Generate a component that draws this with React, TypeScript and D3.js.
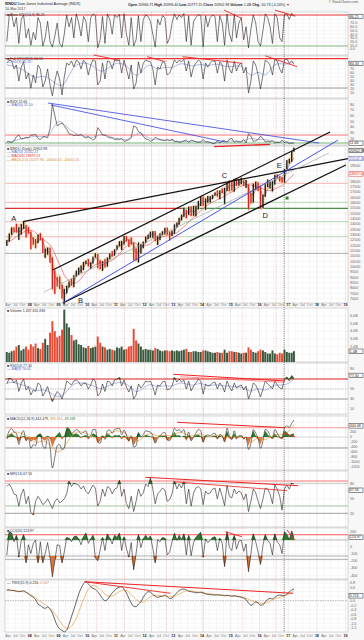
import React from 'react';
import * as d3 from 'd3';

const width = 364;
const height = 640;
const plotLeft = 5;
const plotRight = 348;
const font = 'Liberation Sans, Arial, sans-serif';

// monthly values, Mar 2007 .. Mar 2017 (121 points)
const priceClose = [
  12354, 13062, 13628, 13409, 13212, 13358, 13896, 13930, 13372, 13265,
  12650, 12266, 12263, 12820, 12638, 11350, 11378, 11544, 10851, 9325, 8829, 8776,
  8001, 7063, 7609, 8168, 8500, 8447, 9172, 9496, 9712, 9713, 10345, 10428,
  10067, 10325, 10857, 11009, 10137, 9774, 10466, 10015, 10788, 11118, 11006, 11578,
  11892, 12226, 12320, 12811, 12570, 12414, 12143, 11614, 10913, 11955, 12046, 12218,
  12633, 12952, 13212, 13214, 12393, 12880, 13009, 13091, 13437, 13096, 13026, 13104,
  13861, 14054, 14579, 14840, 15116, 14910, 15500, 14810, 15130, 15546, 16086, 16577,
  15699, 16322, 16458, 16581, 16717, 16827, 16563, 17098, 17043, 17391, 17828, 17823,
  17165, 18133, 17776, 17841, 18011, 17620, 17690, 16528, 16285, 17664, 17720, 17425,
  16466, 16517, 17685, 17774, 17787, 17930, 18432, 18401, 18308, 18142, 19124, 19763,
  19864, 20812, 20903,
];
const priceHigh = [
  12500, 13120, 13690, 13690, 14020, 13700, 14000, 14200, 13900, 13730,
  13300, 12750, 12600, 13010, 13140, 12700, 11700, 11800, 11790, 10880, 9650, 9030,
  9090, 8300, 7930, 8210, 8610, 8880, 9200, 9630, 9920, 10120, 10450, 10580,
  10730, 10420, 10950, 11260, 11200, 10600, 10520, 10720, 10860, 11250, 11450, 11630,
  12020, 12390, 12420, 12880, 12880, 12570, 12750, 12260, 11720, 12280, 12130, 12360,
  12840, 13020, 13290, 13330, 13340, 12900, 13130, 13330, 13650, 13660, 13290, 13380,
  13970, 14150, 14590, 14890, 15540, 15340, 15630, 15660, 15710, 15720, 16170, 16590,
  16590, 16400, 16630, 16610, 16740, 16970, 17150, 17160, 17350, 17400, 17900, 18100,
  18000, 18240, 18290, 18180, 18350, 18100, 18140, 17700, 16930, 17800, 17980, 17920,
  17590, 16750, 17790, 18170, 17970, 18020, 18620, 18670, 18500, 18400, 19160, 19990,
  20130, 20850, 21170,
];
const priceLow = [
  11950, 12350, 13000, 13250, 13200, 12520, 13000, 13550, 12740, 13100,
  11630, 12070, 11730, 12210, 12480, 11290, 10830, 11130, 10360, 7880, 7450, 8150,
  7910, 7000, 6470, 7490, 8050, 8220, 8080, 9080, 9250, 9430, 9680, 10260,
  10030, 9830, 10300, 10860, 9870, 9770, 9620, 9930, 10010, 10720, 10950, 11040,
  11600, 11920, 11560, 12070, 12350, 11860, 12060, 10600, 10600, 10400, 11230, 11730,
  12220, 12600, 12720, 12710, 12400, 12040, 12490, 12960, 13030, 13000, 12470, 12880,
  13100, 13690, 13940, 14340, 14680, 14550, 14860, 14760, 14780, 14720, 15370, 15700,
  15700, 15340, 16000, 16020, 16330, 16680, 16570, 16330, 16900, 15860, 17100, 17070,
  17140, 17040, 17580, 17600, 17730, 17590, 17390, 15370, 15940, 16010, 17210, 17100,
  15450, 15500, 16540, 17480, 17330, 17060, 17700, 18280, 17990, 17880, 17880, 19150,
  19680, 19830, 20780,
];
const ma50 = [
  12400, 12550, 12900, 13250, 13400, 13300, 13350, 13700, 13600, 13350,
  13000, 12500, 12250, 12350, 12600, 12350, 11700, 11450, 11300, 10300, 9200, 8750,
  8600, 8300, 7400, 7600, 8150, 8450, 8550, 9150, 9450, 9700, 9900, 10250,
  10350, 10300, 10400, 10800, 10750, 10300, 10150, 10300, 10400, 10850, 11100, 11250,
  11600, 11950, 12050, 12300, 12550, 12450, 12350, 12000, 11300, 11300, 11700, 12000,
  12300, 12700, 12950, 13100, 12950, 12650, 12750, 13000, 13200, 13350, 13150, 13050,
  13300, 13750, 14150, 14550, 14900, 15050, 15150, 15250, 15150, 15250, 15600, 16000,
  16150, 16050, 16200, 16350, 16500, 16700, 16800, 16850, 17000, 16800, 17150, 17600,
  17600, 17700, 17800, 17900, 17950, 17900, 17800, 17400, 16800, 16750, 17300, 17500,
  17200, 16700, 16750, 17300, 17700, 17800, 18000, 18300, 18350, 18200, 18350, 19050,
  19600, 19900, 20200,
];
const ma200 = [
  12300, 12400, 12500, 12650, 12800, 12950, 13100, 13250, 13350, 13400,
  13400, 13350, 13200, 13000, 12800, 12600, 12400, 12250, 12050, 11700, 11200, 10700,
  10200, 9700, 9200, 8900, 8700, 8550, 8450, 8500, 8650, 8900, 9200, 9450,
  9700, 9900, 10050, 10200, 10300, 10350, 10400, 10400, 10450, 10500, 10600, 10750,
  10950, 11200, 11450, 11700, 11950, 12100, 12250, 12250, 12150, 12000, 11950, 11950,
  12000, 12050, 12150, 12350, 12500, 12650, 12750, 12800, 12850, 12950, 13000, 13050,
  13100, 13200, 13350, 13550, 13750, 13950, 14200, 14450, 14650, 14850, 15050, 15250,
  15450, 15650, 15800, 15950, 16050, 16150, 16300, 16400, 16500, 16600, 16750, 16900,
  17000, 17150, 17300, 17450, 17550, 17650, 17700, 17700, 17650, 17600, 17550, 17500,
  17400, 17300, 17200, 17150, 17150, 17200, 17300, 17400, 17500, 17600, 17800, 18000,
  18250, 18500, 18700,
];
const bbUpper = [
  12700, 13300, 13800, 13800, 14150, 14000, 14100, 14300, 14100, 13900,
  13500, 13000, 12800, 13100, 13250, 12900, 12000, 11900, 11900, 11300, 10200, 9300,
  9300, 8700, 8200, 8400, 8750, 8950, 9300, 9750, 10000, 10250, 10550, 10650,
  10850, 10600, 11000, 11350, 11350, 10800, 10600, 10800, 10950, 11350, 11550, 11700,
  12100, 12450, 12500, 12950, 12950, 12700, 12800, 12600, 11900, 12300, 12300, 12450,
  12900, 13100, 13350, 13400, 13400, 13000, 13200, 13400, 13700, 13750, 13400, 13450,
  14050, 14250, 14650, 14950, 15600, 15450, 15700, 15700, 15750, 15800, 16250, 16650,
  16700, 16500, 16700, 16700, 16800, 17050, 17250, 17200, 17400, 17500, 17950, 18150,
  18100, 18300, 18350, 18250, 18400, 18250, 18200, 17900, 17100, 17900, 18050, 18000,
  17700, 16900, 17900, 18250, 18050, 18100, 18700, 18750, 18600, 18500, 19300, 20050,
  20200, 20950, 21250,
];
const bbLower = [
  11800, 12200, 12900, 13150, 13100, 12400, 12900, 13400, 12600, 13000,
  11500, 11950, 11600, 12100, 12400, 11200, 10700, 11000, 10200, 7700, 7300, 8000,
  7800, 6900, 6350, 7300, 7950, 8100, 8000, 8950, 9150, 9300, 9550, 10150,
  9900, 9700, 10200, 10750, 9700, 9600, 9500, 9800, 9900, 10600, 10850, 10950,
  11500, 11800, 11450, 11950, 12250, 11750, 11900, 10450, 10500, 10300, 11100, 11650,
  12100, 12500, 12600, 12600, 12300, 11950, 12400, 12850, 12950, 12900, 12350, 12750,
  13000, 13600, 13850, 14250, 14550, 14400, 14750, 14650, 14700, 14650, 15250, 15550,
  15600, 15200, 15900, 15900, 16250, 16550, 16450, 16200, 16800, 15700, 17000, 16950,
  17000, 16900, 17450, 17500, 17650, 17500, 17300, 15200, 15800, 15900, 17100, 17000,
  15300, 15400, 16400, 17350, 17200, 16900, 17550, 18150, 17850, 17750, 17700, 19000,
  19550, 19700, 20600,
];
// volume, billions of shares
const volume = [
  1.3, 1.2, 1.4, 1.5, 2.0, 2.2, 1.5, 1.7, 2.0, 1.6,
  2.3, 2.0, 2.4, 1.8, 1.7, 2.5, 3.0, 2.2, 3.8, 5.3, 4.0, 3.2,
  3.4, 4.2, 6.8, 5.0, 4.5, 3.5, 2.8, 2.9, 2.3, 2.2, 1.9, 1.8,
  2.1, 1.8, 1.9, 2.0, 3.3, 2.5, 2.0, 1.9, 1.6, 1.7, 1.6, 1.5,
  1.9, 1.8, 2.0, 1.6, 1.7, 2.0, 2.1, 4.3, 2.8, 2.4, 2.0, 1.6,
  1.7, 1.6, 1.6, 1.5, 1.8, 1.7, 1.5, 1.4, 1.5, 1.5, 1.4, 1.5,
  1.4, 1.5, 1.4, 1.5, 1.6, 1.7, 1.3, 1.3, 1.4, 1.4, 1.3, 1.3,
  1.5, 1.5, 1.4, 1.3, 1.2, 1.2, 1.3, 1.2, 1.2, 1.6, 1.2, 1.4,
  1.4, 1.3, 1.3, 1.2, 1.1, 1.2, 1.2, 1.9, 1.6, 1.3, 1.2, 1.4,
  1.6, 1.5, 1.3, 1.1, 1.1, 1.5, 1.1, 1.0, 1.2, 1.1, 1.6, 1.3,
  1.2, 1.2, 1.4,
];
const stoFast = [
  20, 90, 95, 60, 85, 15, 80, 92, 30, 55,
  10, 45, 25, 85, 70, 8, 30, 75, 20, 5, 35, 70,
  15, 5, 40, 92, 60, 85, 30, 95, 70, 35, 88, 75,
  20, 85, 95, 90, 3, 25, 88, 15, 95, 80, 40, 92,
  85, 94, 30, 95, 40, 10, 85, 8, 25, 90, 20, 80,
  92, 88, 75, 40, 5, 80, 65, 90, 85, 15, 30, 70,
  95, 80, 92, 85, 96, 20, 90, 10, 75, 85, 93, 90,
  5, 90, 60, 85, 92, 88, 20, 90, 70, 10, 95, 40,
  20, 95, 30, 70, 85, 25, 60, 3, 55, 92, 70, 20,
  8, 50, 95, 85, 60, 15, 95, 85, 30, 20, 93, 95,
  80, 97, 88,
];
const stoSlow = [
  85, 92, 90, 70, 80, 40, 75, 88, 45, 60,
  22, 55, 35, 80, 70, 25, 40, 70, 30, 3, 40, 65,
  45, 5, 50, 85, 80, 90, 75, 92, 88, 70, 92, 85,
  55, 80, 93, 90, 30, 40, 85, 45, 90, 88, 70, 92,
  90, 93, 60, 92, 70, 45, 80, 20, 35, 88, 60, 85,
  92, 90, 88, 70, 30, 75, 70, 88, 85, 55, 60, 75,
  93, 85, 92, 88, 94, 65, 90, 50, 75, 85, 92, 88,
  45, 85, 75, 85, 90, 90, 60, 88, 80, 40, 93, 70,
  60, 90, 65, 80, 85, 60, 75, 10, 40, 90, 80, 55,
  20, 55, 92, 88, 80, 55, 94, 90, 70, 60, 93, 95,
  85, 90, 82,
];
const vix = [
  14, 14, 13, 16, 23, 26, 19, 20, 22, 21,
  26, 26, 27, 20, 18, 23, 23, 21, 38, 80, 60, 42,
  45, 47, 42, 36, 28, 27, 25, 26, 25, 27, 23, 21,
  23, 20, 17, 20, 39, 33, 26, 26, 23, 21, 21, 18,
  19, 18, 20, 15, 16, 18, 22, 42, 40, 32, 30, 24,
  19, 18, 15, 17, 22, 20, 18, 17, 16, 18, 16, 19,
  14, 15, 13, 14, 16, 17, 13, 17, 16, 14, 13, 14,
  18, 14, 14, 13, 11, 11, 16, 12, 16, 16, 13, 19,
  20, 13, 15, 14, 14, 18, 12, 28, 24, 15, 16, 18,
  24, 20, 14, 15, 14, 16, 12, 13, 13, 17, 13, 14,
  11, 12, 12,
];
const rsi = [
  60, 72, 70, 62, 68, 45, 62, 70, 48, 55,
  38, 48, 45, 62, 58, 36, 44, 55, 38, 25, 36, 45,
  40, 30, 45, 66, 62, 58, 66, 68, 64, 56, 62, 62,
  50, 58, 70, 66, 36, 42, 60, 45, 66, 64, 56, 68,
  70, 73, 56, 68, 54, 44, 56, 30, 38, 60, 52, 58,
  66, 64, 66, 54, 38, 58, 56, 64, 66, 48, 50, 56,
  73, 64, 70, 64, 68, 50, 66, 46, 56, 62, 70, 66,
  40, 60, 56, 58, 62, 64, 50, 62, 56, 44, 66, 54,
  46, 62, 52, 56, 58, 48, 56, 30, 44, 62, 58, 48,
  34, 50, 66, 60, 56, 50, 66, 58, 52, 50, 70, 74,
  66, 77, 72,
];
const macd = [
  -50, 250, 330, 200, 150, -300, 100, 250, -150, -50,
  -450, -300, -350, 50, 100, -350, -450, -50, -400, -1240, -800, -350,
  -300, -500, -450, 250, 300, 150, 200, 300, 250, 120, 200, 250,
  0, 50, 300, 300, -200, -250, 50, -100, 250, 280, 150, 300,
  330, 350, 100, 280, 80, -150, 50, -400, -350, 150, 0, 100,
  250, 220, 200, 50, -250, -50, 60, 150, 180, -100, -150, 50,
  350, 250, 300, 200, 300, -50, 200, -150, 0, 150, 300, 250,
  -200, 50, 80, 60, 120, 150, -50, 100, 50, -200, 350, 50,
  -100, 250, -30, 50, 70, -80, 0, -500, -250, 300, 150, -50,
  -450, -150, 300, 250, 50, -50, 300, 150, 0, -50, 350, 450,
  380, 550, 680,
];
const macdHist = [
  -100, 100, 150, 50, -50, -200, -50, 50, -150, -50,
  -200, -100, -150, 100, 150, -100, -150, 50, -100, -400, -150, 100,
  200, -100, 50, 400, 350, 150, 100, 150, 80, -50, 50, 80,
  -100, 0, 150, 100, -250, -150, 50, -50, 150, 80, -50, 80,
  60, 80, -100, 60, -80, -200, 0, -350, -150, 200, 0, 30,
  100, 50, 30, -60, -250, 0, 50, 60, 50, -150, -100, 60,
  200, 50, 80, 0, 60, -150, 80, -150, 0, 80, 100, 30,
  -250, 60, 30, 0, 50, 50, -100, 60, 0, -200, 250, -50,
  -100, 150, -100, 30, 30, -80, 0, -350, -50, 250, 50, -100,
  -300, 0, 250, 100, -30, -80, 150, 30, -50, -80, 250, 200,
  60, 120, 150,
];
const mfi = [
  75, 80, 72, 60, 58, 35, 60, 70, 40, 55,
  22, 17, 45, 55, 48, 38, 42, 50, 40, 30, 45, 50,
  42, 45, 50, 60, 86, 75, 82, 80, 78, 70, 76, 65,
  60, 70, 78, 72, 35, 45, 70, 55, 75, 72, 60, 70,
  72, 88, 55, 70, 40, 30, 55, 24, 45, 70, 55, 62,
  80, 75, 92, 70, 40, 60, 65, 72, 68, 45, 48, 60,
  86, 70, 80, 72, 85, 40, 70, 35, 62, 72, 75, 70,
  38, 66, 60, 62, 70, 72, 50, 72, 55, 36, 78, 55,
  52, 70, 60, 66, 62, 48, 60, 24, 45, 70, 62, 45,
  30, 50, 72, 70, 60, 40, 78, 70, 55, 27, 70, 78,
  70, 82, 80,
];
const cci = [
  -120, 200, 180, 60, 150, -150, 80, 160, -230, 20,
  -100, 40, 85, -230, 60, -230, -100, 50, -150, -420, -200, 20,
  10, -230, -80, 120, 110, 60, 130, 140, 100, 20, 130, 180,
  40, 100, 150, -160, -200, -50, 120, -60, 170, 110, 30, 150,
  120, 180, -60, 130, -30, -150, 50, -325, -100, 160, -20, 100,
  150, 100, 140, -30, -230, 90, 60, 120, 110, -120, -80, 60,
  180, 80, 150, 90, 170, -120, 150, -130, 50, 120, 160, 190,
  -150, 100, 50, 80, 120, 130, -60, 110, 40, -280, 200, -20,
  -60, 150, -40, 70, 80, -70, 30, -350, -100, 170, 60, -80,
  -250, 10, 160, 80, 40, -120, 170, 60, 20, -100, 200, 160,
  90, 210, 120,
];
const trix = [
  0.48, 0.48, 0.46, 0.45, 0.42, 0.40, 0.42, 0.44, 0.38, 0.30,
  0.22, 0.15, 0.05, -0.15, -0.22, -0.30, -0.34, -0.28, -0.38, -0.55, -0.85, -1.10,
  -1.25, -1.32, -1.38, -1.30, -1.05, -0.70, -0.40, -0.05, 0.30, 0.55, 0.75, 0.84,
  0.75, 0.62, 0.55, 0.50, 0.40, 0.25, 0.10, 0.00, 0.05, 0.20, 0.35, 0.45,
  0.55, 0.60, 0.62, 0.50, 0.35, 0.10, -0.10, -0.25, -0.27, -0.15, -0.05, 0.15,
  0.30, 0.40, 0.38, 0.28, 0.20, 0.15, 0.18, 0.20, 0.25, 0.18, 0.10, 0.12,
  0.25, 0.35, 0.45, 0.50, 0.52, 0.48, 0.42, 0.40, 0.38, 0.35, 0.36, 0.38,
  0.35, 0.30, 0.28, 0.27, 0.26, 0.25, 0.26, 0.25, 0.24, 0.22, 0.24, 0.22,
  0.20, 0.22, 0.20, 0.18, 0.15, 0.12, 0.05, -0.10, -0.20, -0.15, -0.05, -0.10,
  -0.20, -0.18, -0.05, 0.05, 0.10, 0.08, 0.15, 0.22, 0.25, 0.24, 0.22, 0.30,
  0.40, 0.48, 0.52,
];

// quarterly signal lines, Mar 2007 .. Mar 2017 (41 points)
const stoSlowSignal = [
  80, 78, 70, 60, 45, 55, 45, 30, 25, 70, 85, 85, 80, 60, 70, 85, 85, 75, 45, 70,
  85, 65, 78, 70, 85, 82, 75, 85, 75, 85, 78, 75, 78, 78, 45, 70, 45, 80, 85, 80, 88,
];
const vixMa = [
  14, 15, 20, 21, 25, 22, 24, 55, 45, 32, 26, 24, 20, 28, 25, 20, 19, 16, 30, 28,
  18, 18, 17, 17, 14, 15, 15, 14, 14, 12, 14, 15, 16, 14, 22, 17, 19, 15, 13, 14, 12,
];
const rsiMa = [
  62, 64, 58, 56, 44, 50, 44, 32, 38, 58, 64, 60, 58, 48, 56, 62, 64, 58, 40, 52,
  62, 52, 58, 54, 64, 60, 56, 64, 54, 60, 56, 56, 54, 54, 42, 54, 44, 58, 58, 58, 70,
];
const macdSignal = [
  0, 250, 150, 50, -300, -100, -300, -700, -450, 100, 250, 150, 0, -100, 100, 250,
  250, 50, -250, 0, 200, 0, 100, 0, 250, 100, 0, 200, -50, 100, 50, 0, 0, 0, -300, 50,
  -200, 100, 100, 100, 500,
];
const trixSignal = [
  0.46, 0.45, 0.42, 0.36, 0.12, -0.12, -0.30, -0.70, -1.25, -1.25, -0.55, 0.40,
  0.78, 0.52, 0.15, 0.22, 0.52, 0.45, 0.00, -0.15, 0.25, 0.25, 0.20, 0.15,
  0.28, 0.48, 0.42, 0.36, 0.32, 0.27, 0.25, 0.23, 0.20, 0.17, 0.00, -0.10,
  -0.15, 0.05, 0.15, 0.24, 0.45,
];

// marked dates (decimal years)
const eventYears = [2010.33, 2011.3, 2012.24, 2012.76, 2014.05, 2015.4, 2016.58];
const electionYear = 2016.86;

const monthDate = (i: number) => new Date(2007, 2 + i, 15);
const quarterDate = (i: number) => new Date(2007, 2 + i * 3, 15);
const yearDate = (y: number) => {
  const yr = Math.floor(y);
  const s = new Date(yr, 0, 1).getTime();
  const e = new Date(yr + 1, 0, 1).getTime();
  return new Date(s + (y - yr) * (e - s));
};

const xScale = d3.scaleTime().domain([new Date(2007, 1, 20), new Date(2019, 1, 1)]).range([plotLeft, plotRight]);
const mx = (i: number) => xScale(monthDate(i));
const qx = (i: number) => xScale(quarterDate(i));
const quarterTicks = d3.timeMonth.every(3)!.range(new Date(2007, 3, 1), new Date(2019, 1, 2));

type TagDef = { v: number; text: string; color: string };
type Panel = {
  top: number;
  bottom: number;
  y: d3.ScaleLinear<number, number>;
  ticks: number[];
  fmt: (v: number) => string;
  tags: TagDef[];
};

const pSto: Panel = { top: 12, bottom: 55, y: d3.scaleLinear().domain([0, 100]).range([49, 12]), ticks: d3.range(0, 101, 10), fmt: v => v.toFixed(1), tags: [{ v: 88, text: '86.21', color: '#222' }] };
const pSlow: Panel = { top: 56, bottom: 98, y: d3.scaleLinear().domain([0, 100]).range([97, 57]), ticks: d3.range(0, 101, 10), fmt: v => String(v), tags: [{ v: 84, text: '84.33', color: '#222' }] };
const pVix: Panel = { top: 99, bottom: 145, y: d3.scaleLinear().domain([12, 82]).range([143, 103.1]), ticks: d3.range(10, 81, 10), fmt: v => String(v), tags: [{ v: 11.66, text: '11.66', color: '#222' }] };
const pMain: Panel = {
  top: 146, bottom: 303, y: d3.scaleLinear().domain([6000, 21000]).range([309.4, 149.4]), ticks: d3.range(7000, 20501, 500), fmt: v => String(v),
  tags: [
    { v: 20903, text: '20902.98', color: '#111' },
    { v: 20142, text: '20142.47', color: '#5566bb' },
    { v: 18697, text: '18697.01', color: '#dd3333' },
  ],
};
const pVol: Panel = { top: 308, bottom: 362, y: d3.scaleLinear().domain([0, 6.8]).range([362, 309.6]), ticks: d3.range(1, 7, 1), fmt: v => v.toFixed(1) + 'B', tags: [{ v: 1.4, text: '1.4B', color: '#222' }] };
const pRsi: Panel = { top: 363, bottom: 414, y: d3.scaleLinear().domain([0, 100]).range([414, 364]), ticks: [10, 30, 50, 70, 90], fmt: v => String(v), tags: [{ v: 77.3, text: '77.30', color: '#222' }] };
const pMacd: Panel = { top: 416, bottom: 470, y: d3.scaleLinear().domain([-1320, 880]).range([470, 415]), ticks: d3.range(-1200, 801, 200), fmt: v => String(v), tags: [{ v: 444, text: '444.48', color: '#222' }] };
const pMfi: Panel = { top: 471, bottom: 527, y: d3.scaleLinear().domain([0, 100]).range([523.3, 474.3]), ticks: [20, 50, 80], fmt: v => String(v), tags: [{ v: 67.56, text: '67.56', color: '#222' }] };
const pCci: Panel = { top: 528, bottom: 579, y: d3.scaleLinear().domain([-450, 250]).range([579, 528]), ticks: [-400, -300, -200, -100, 0, 100, 200], fmt: v => String(v), tags: [{ v: 124, text: '123.97', color: '#222' }] };
const pTrix: Panel = { top: 580, bottom: 632, y: d3.scaleLinear().domain([-1.4, 0.9]).range([632.2, 580.45]), ticks: d3.range(-12, 9, 2).map(v => v / 10), fmt: v => v.toFixed(1), tags: [{ v: 0.216, text: '0.216', color: '#222' }] };

type Trend = { a: [number, number]; b: [number, number]; color: string; w: number };

const priceTrends: Trend[] = [
  { a: [2007.76, 14219], b: [2019.08, 20143], color: '#111', w: 1.3 },
  { a: [2008.8, 9690], b: [2018.46, 22628], color: '#111', w: 1.3 },
  { a: [2009.15, 6597], b: [2019.01, 19534], color: '#111', w: 1.3 },
  { a: [2008.49, 7628], b: [2018.42, 20659], color: '#999', w: 0.6 },
  { a: [2009.15, 6597], b: [2018.74, 21878], color: '#3344dd', w: 0.9 },
];
const priceLevels = [
  { v: 17818, left: '#f5a3a3', right: '#f5a3a3', w: 0.8 },
  { v: 16037, left: '#f5a3a3', right: '#9fcf9f', w: 0.8 },
  { v: 15475, left: '#e23030', right: '#4d8f4d', w: 1.3 },
  { v: 14219, left: '#f5a3a3', right: '#9fcf9f', w: 0.8 },
  { v: 12813, left: '#f5a3a3', right: '#9fcf9f', w: 0.8 },
  { v: 11256, left: '#aaaaaa', right: '#aaaaaa', w: 1 },
];
const levelSplitYear = 2013.3;

const stoTrends: Trend[] = [
  { a: [2014.77, 105], b: [2015.38, 83], color: '#e22', w: 0.9 },
  { a: [2016.54, 105], b: [2017.25, 89], color: '#e22', w: 0.9 },
];
const slowTrends: Trend[] = [
  { a: [2010.22, 105], b: [2011.09, 92.5], color: '#e22', w: 0.9 },
  { a: [2012.09, 100.75], b: [2012.73, 88.25], color: '#e22', w: 0.9 },
  { a: [2013.32, 100.75], b: [2015.4, 84.25], color: '#e22', w: 0.9 },
  { a: [2016.2, 103], b: [2017.31, 75.75], color: '#e22', w: 0.9 },
];
const vixTrends: Trend[] = [
  { a: [2008.63, 82.2], b: [2018.08, 12], color: '#3344dd', w: 0.8 },
  { a: [2008.73, 78.7], b: [2014.81, 13.75], color: '#3344dd', w: 0.8 },
  { a: [2014.42, 5.5], b: [2016.37, 9.7], color: '#e22', w: 1.3 },
];
const rsiTrends: Trend[] = [
  { a: [2013.0, 79.4], b: [2016.89, 66], color: '#e22', w: 1 },
  { a: [2013.25, 74.6], b: [2016.83, 63.4], color: '#f66', w: 0.7 },
];
const macdTrends: Trend[] = [
  { a: [2013.13, 588], b: [2016.89, 372], color: '#e22', w: 1 },
  { a: [2016.83, 160], b: [2017.24, 12], color: '#e22', w: 0.9 },
];
const mfiTrends: Trend[] = [
  { a: [2012.03, 93.9], b: [2017.35, 76.7], color: '#e22', w: 1 },
  { a: [2013.0, 84.9], b: [2016.96, 66.5], color: '#e22', w: 0.8 },
];
const cciTrends: Trend[] = [
  { a: [2014.81, 199], b: [2015.39, 130], color: '#e22', w: 0.9 },
  { a: [2016.96, 222], b: [2017.24, 85], color: '#e22', w: 0.9 },
];
const trixTrends: Trend[] = [
  { a: [2009.91, 0.844], b: [2017.17, 0.329], color: '#e22', w: 1 },
  { a: [2009.91, 0.844], b: [2012.9, 0.329], color: '#e22', w: 0.9 },
];

const waveLabels = [
  { t: 'A', yr: 2007.44, v: 14331 },
  { t: 'B', yr: 2009.77, v: 6644 },
  { t: 'C', yr: 2014.78, v: 18362 },
  { t: 'D', yr: 2016.2, v: 14612 },
  { t: 'E', yr: 2016.69, v: 19300 },
];

const linePath = (vals: number[], xf: (i: number) => number, y: (v: number) => number, curve: d3.CurveFactory = d3.curveLinear) =>
  d3.line<number>().x((_, i) => xf(i)).y(v => y(v)).curve(curve)(vals) || '';

const fillPath = (vals: number[], y: (v: number) => number, thr: number, above: boolean) =>
  d3.area<number>()
    .x((_, i) => mx(i))
    .y0(y(thr))
    .y1(v => y(above ? Math.max(v, thr) : Math.min(v, thr)))(vals) || '';

function Frame({ p }: { p: Panel }) {
  const tagYs = p.tags.map(t => p.y(t.v));
  const visible = p.ticks.filter(t => p.y(t) > p.top + 1 && p.y(t) < p.bottom - 1);
  return (
    <g>
      <rect x={plotLeft} y={p.top} width={plotRight - plotLeft} height={p.bottom - p.top} fill="#fff" stroke="#bdbdbd" strokeWidth={0.6} />
      {quarterTicks.map((d, i) => (
        <line key={i} x1={xScale(d)} x2={xScale(d)} y1={p.top} y2={p.bottom} stroke={d.getMonth() === 0 ? '#d6d6d6' : '#ececec'} strokeWidth={0.5} />
      ))}
      {visible.map((t, i) => (
        <line key={i} x1={plotLeft} x2={plotRight} y1={p.y(t)} y2={p.y(t)} stroke="#ededed" strokeWidth={0.5} />
      ))}
      {visible
        .filter(t => tagYs.every(ty => Math.abs(ty - p.y(t)) > 4.6))
        .map((t, i) => (
          <text key={i} x={plotRight + 2} y={p.y(t) + 1.3} fontSize={3.7} fill="#666">{p.fmt(t)}</text>
        ))}
    </g>
  );
}

function Tags({ p }: { p: Panel }) {
  return (
    <g>
      {p.tags.map((t, i) => (
        <g key={i}>
          <rect x={plotRight + 1} y={p.y(t.v) - 2.2} width={14} height={4.4} fill="#fff" stroke={t.color} strokeWidth={0.5} />
          <text x={plotRight + 1.8} y={p.y(t.v) + 1.3} fontSize={3.6} fill={t.color}>{t.text}</text>
        </g>
      ))}
    </g>
  );
}

function Trends({ p, lines }: { p: Panel; lines: Trend[] }) {
  return (
    <g>
      {lines.map((l, i) => (
        <line key={i} x1={xScale(yearDate(l.a[0]))} y1={p.y(l.a[1])} x2={xScale(yearDate(l.b[0]))} y2={p.y(l.b[1])} stroke={l.color} strokeWidth={l.w} />
      ))}
    </g>
  );
}

function HLine({ p, v, color, w, dash }: { p: Panel; v: number; color: string; w: number; dash?: string }) {
  return <line x1={plotLeft} x2={plotRight} y1={p.y(v)} y2={p.y(v)} stroke={color} strokeWidth={w} strokeDasharray={dash} />;
}

function Legend({ p, items }: { p: Panel; items: { text: string; color: string }[] }) {
  return (
    <g>
      {items.map((it, i) => (
        <text key={i} x={plotLeft + 2} y={p.top + 3.8 + i * 3.6} fontSize={3.5} fill={it.color}>{it.text}</text>
      ))}
    </g>
  );
}

function DateRow({ y }: { y: number }) {
  return (
    <g>
      {quarterTicks.map((d, i) => {
        const yearLabel = d.getMonth() === 0;
        return (
          <text key={i} x={xScale(d)} y={y} fontSize={3.6} textAnchor="middle" fill={yearLabel ? '#222' : '#777'} fontWeight={yearLabel ? 'bold' : 'normal'}>
            {yearLabel ? String(d.getFullYear()).slice(2) : d3.timeFormat('%b')(d)}
          </text>
        );
      })}
    </g>
  );
}

const allPanels = [pSto, pSlow, pVix, pMain, pVol, pRsi, pMacd, pMfi, pCci, pTrix];

export default function App() {
  const step = mx(1) - mx(0);
  const barW = step * 0.55;
  const volW = step * 0.8;
  const splitX = xScale(yearDate(levelSplitYear));

  return (
    <div style={{ position: 'absolute', left: 0, top: 0 }}>
      <svg width={width} height={height} style={{ display: 'block', background: '#f7f7f7', fontFamily: font }}>
        {/* header */}
        <text x={plotLeft} y={4.6} fontSize={3.8} fill="#222"><tspan fontWeight="bold">$INDU</tspan> Dow Jones Industrial Average (INDX)</text>
        <text x={plotLeft} y={9.6} fontSize={3.6} fill="#444">10-Mar-2017</text>
        <text x={128} y={6.2} fontSize={3.6} fill="#222">
          <tspan fontWeight="bold">Open</tspan> 20966.71  <tspan fontWeight="bold">High</tspan> 20996.40  <tspan fontWeight="bold">Low</tspan> 20777.15  <tspan fontWeight="bold">Close</tspan> 20902.98  <tspan fontWeight="bold">Volume</tspan> 1.4B  <tspan fontWeight="bold">Chg</tspan> -50.73 (-0.24%) <tspan fill="#d22">▼</tspan>
        </text>
        <text x={358} y={3.4} fontSize={3.4} textAnchor="end" fill="#555">© StockCharts.com</text>

        {allPanels.map((p, i) => <Frame key={i} p={p} />)}

        {/* event markers */}
        {eventYears.map((yr, i) => (
          <line key={i} x1={xScale(yearDate(yr))} x2={xScale(yearDate(yr))} y1={pSto.top} y2={pTrix.bottom} stroke="#f08a8a" strokeWidth={0.5} strokeDasharray="1.2,1.2" />
        ))}
        <line x1={xScale(yearDate(electionYear))} x2={xScale(yearDate(electionYear))} y1={pSto.top} y2={pTrix.bottom} stroke="#333" strokeWidth={0.6} strokeDasharray="1.2,1" />

        {/* panel 1 */}
        <HLine p={pSto} v={92} color="#e33" w={1.1} />
        <HLine p={pSto} v={8} color="#6a6" w={0.8} />
        <path d={linePath(stoFast, mx, pSto.y)} fill="none" stroke="#222" strokeWidth={0.6} />
        <Trends p={pSto} lines={stoTrends} />
        <Legend p={pSto} items={[{ text: '■ Slow STO(14,3) 86.21', color: '#333' }]} />

        {/* panel 2 */}
        <HLine p={pSlow} v={96} color="#e33" w={1.1} />
        <HLine p={pSlow} v={22.5} color="#999" w={1.2} />
        <path d={linePath(stoSlowSignal, qx, pSlow.y, d3.curveBasis)} fill="none" stroke="#7f8ccc" strokeWidth={0.6} />
        <path d={linePath(stoSlow, mx, pSlow.y)} fill="none" stroke="#222" strokeWidth={0.6} />
        <Trends p={pSlow} lines={slowTrends} />
        <Legend p={pSlow} items={[{ text: '■ Full STO(39,3) 84.33', color: '#333' }, { text: '— %D(3) 80.25', color: '#5566bb' }]} />

        {/* panel 3 */}
        <HLine p={pVix} v={26} color="#f66" w={0.9} />
        <HLine p={pVix} v={12} color="#6a6" w={0.9} />
        <path d={linePath(vixMa, qx, pVix.y, d3.curveBasis)} fill="none" stroke="#8a96cc" strokeWidth={0.6} />
        <path d={linePath(vix, mx, pVix.y)} fill="none" stroke="#222" strokeWidth={0.6} />
        <Trends p={pVix} lines={vixTrends} />
        <Legend p={pVix} items={[{ text: '■ $VIX 11.66', color: '#333' }, { text: '— MA(50) 12.10', color: '#5566bb' }]} />

        {/* main price panel */}
        {priceLevels.map((l, i) => (
          <g key={i}>
            <line x1={plotLeft} x2={splitX} y1={pMain.y(l.v)} y2={pMain.y(l.v)} stroke={l.left} strokeWidth={l.w} />
            <line x1={splitX} x2={plotRight} y1={pMain.y(l.v)} y2={pMain.y(l.v)} stroke={l.right} strokeWidth={l.w} />
          </g>
        ))}
        <path
          d={d3.area<number>().x((_, i) => mx(i)).y0((_, i) => pMain.y(bbLower[i])).y1(v => pMain.y(v)).curve(d3.curveMonotoneX)(bbUpper) || ''}
          fill="#f8d2a6"
          opacity={0.8}
        />
        <path d={linePath(ma200, mx, pMain.y, d3.curveMonotoneX)} fill="none" stroke="#e35b5b" strokeWidth={0.7} />
        <path d={linePath(ma50, mx, pMain.y, d3.curveMonotoneX)} fill="none" stroke="#7a7f98" strokeWidth={0.7} />
        {priceClose.map((c, i) => (
          <rect
            key={i}
            x={mx(i) - barW / 2}
            y={pMain.y(priceHigh[i])}
            width={barW}
            height={pMain.y(priceLow[i]) - pMain.y(priceHigh[i])}
            fill={i > 0 && c < priceClose[i - 1] ? '#d82020' : '#1a1a1a'}
          />
        ))}
        <Trends p={pMain} lines={priceTrends} />
        {waveLabels.map((w, i) => (
          <text key={i} x={xScale(yearDate(w.yr))} y={pMain.y(w.v)} fontSize={7.5} textAnchor="middle" fill="#222">{w.t}</text>
        ))}
        <rect x={xScale(yearDate(2016.96)) - 1.5} y={pMain.y(16440) - 1.5} width={3} height={3} fill="#2a8a2a" />
        <Legend
          p={pMain}
          items={[
            { text: '■ $INDU (Daily) 20902.98', color: '#333' },
            { text: '— MA(50) 20142.47', color: '#5566bb' },
            { text: '— MA(200) 18697.01', color: '#dd3333' },
            { text: '— BB(20,2.0) 21077.93 - 20564.54 - 20051.15', color: '#e08a2a' },
          ]}
        />
        <DateRow y={306.4} />

        {/* volume */}
        {volume.map((v, i) => (
          <rect
            key={i}
            x={mx(i) - volW / 2}
            y={pVol.y(v)}
            width={volW}
            height={pVol.y(0) - pVol.y(v)}
            fill={i > 0 && priceClose[i] < priceClose[i - 1] ? '#e4361f' : '#23472a'}
            opacity={0.9}
          />
        ))}
        <Legend p={pVol} items={[{ text: '■ Volume 1,437,655,836', color: '#333' }]} />

        {/* RSI */}
        <HLine p={pRsi} v={70} color="#d22" w={1.2} />
        <HLine p={pRsi} v={50} color="#aaa" w={0.6} dash="1.5,1" />
        <HLine p={pRsi} v={30} color="#999" w={1.2} />
        <path d={fillPath(rsi, pRsi.y, 70, true)} fill="#2f7a2f" />
        <path d={fillPath(rsi, pRsi.y, 30, false)} fill="#d8763a" />
        <path d={linePath(rsiMa, qx, pRsi.y, d3.curveBasis)} fill="none" stroke="#7f8ccc" strokeWidth={0.6} />
        <path d={linePath(rsi, mx, pRsi.y)} fill="none" stroke="#222" strokeWidth={0.6} />
        <Trends p={pRsi} lines={rsiTrends} />
        <Legend p={pRsi} items={[{ text: '■ RSI(14) 77.30', color: '#333' }, { text: '— MA(9) 76.02', color: '#5566bb' }]} />

        {/* MACD */}
        <HLine p={pMacd} v={372} color="#f6b0b0" w={1.3} />
        <HLine p={pMacd} v={0} color="#bbb" w={0.5} />
        <HLine p={pMacd} v={-440} color="#999" w={1} />
        <path d={fillPath(macdHist, pMacd.y, 0, true)} fill="#2f7a2f" />
        <path d={fillPath(macdHist, pMacd.y, 0, false)} fill="#d8763a" />
        <path d={linePath(macdSignal, qx, pMacd.y, d3.curveBasis)} fill="none" stroke="#f0a040" strokeWidth={0.7} />
        <path d={linePath(macd, mx, pMacd.y, d3.curveMonotoneX)} fill="none" stroke="#222" strokeWidth={0.6} />
        <Trends p={pMacd} lines={macdTrends} />
        <text x={plotLeft + 2} y={pMacd.top + 3.8} fontSize={3.5} fill="#333">
          ■ MACD(12,26,9) 444.479, <tspan fill="#e08a2a">395.161</tspan>, <tspan fill="#2f7a2f">49.318</tspan>
        </text>

        {/* MFI */}
        <HLine p={pMfi} v={86.3} color="#f77" w={1.2} />
        <HLine p={pMfi} v={81.6} color="#bbb" w={0.8} />
        <HLine p={pMfi} v={35.3} color="#8b8" w={0.8} />
        <HLine p={pMfi} v={20.4} color="#999" w={0.9} />
        <path d={fillPath(mfi, pMfi.y, 80, true)} fill="#2f7a2f" />
        <path d={fillPath(mfi, pMfi.y, 20, false)} fill="#d8763a" />
        <path d={linePath(mfi, mx, pMfi.y)} fill="none" stroke="#222" strokeWidth={0.6} />
        <Trends p={pMfi} lines={mfiTrends} />
        <Legend p={pMfi} items={[{ text: '■ MFI(14) 67.56', color: '#333' }]} />

        {/* CCI */}
        <HLine p={pCci} v={157} color="#f55" w={1.1} />
        <HLine p={pCci} v={85} color="#aaa" w={0.8} />
        <HLine p={pCci} v={-134} color="#999" w={0.8} />
        <HLine p={pCci} v={-180} color="#999" w={0.8} />
        <path d={fillPath(cci, pCci.y, 85, true)} fill="#2f7a2f" />
        <path d={fillPath(cci, pCci.y, -134, false)} fill="#d8763a" />
        <path d={linePath(cci, mx, pCci.y)} fill="none" stroke="#222" strokeWidth={0.6} />
        <Trends p={pCci} lines={cciTrends} />
        <Legend p={pCci} items={[{ text: '■ CCI(20) 123.97', color: '#333' }]} />

        {/* TRIX */}
        <HLine p={pTrix} v={0} color="#999" w={0.6} dash="1.5,1" />
        <path d={linePath(trixSignal, qx, pTrix.y, d3.curveBasis)} fill="none" stroke="#f0a040" strokeWidth={0.7} />
        <path d={linePath(trix, mx, pTrix.y, d3.curveMonotoneX)} fill="none" stroke="#222" strokeWidth={0.7} />
        <Trends p={pTrix} lines={trixTrends} />
        <text x={plotLeft + 2} y={pTrix.top + 3.8} fontSize={3.5} fill="#333">
          — TRIX(15,9) 0.216, <tspan fill="#e08a2a">0.167</tspan>
        </text>
        <DateRow y={636.6} />

        {allPanels.map((p, i) => <Tags key={i} p={p} />)}
      </svg>
    </div>
  );
}
